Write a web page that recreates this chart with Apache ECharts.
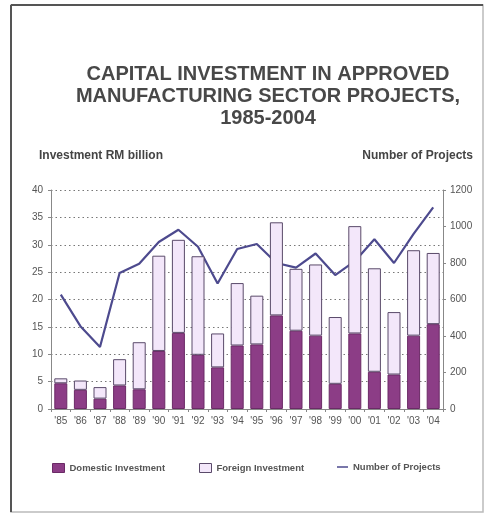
<!DOCTYPE html>
<html><head><meta charset="utf-8">
<script src="https://cdn.jsdelivr.net/npm/echarts@6/dist/echarts.min.js"></script>
<style>html,body{margin:0;padding:0;background:#fff}#c{width:485px;height:514px}</style>
</head><body><div id="c"></div>
<script>
const years = ["'85","'86","'87","'88","'89","'90","'91","'92","'93","'94","'95","'96","'97","'98","'99","'00","'01","'02","'03","'04"];
const domestic = [4.7,3.5,1.9,4.3,3.6,10.6,13.9,9.9,7.6,11.6,11.8,17.1,14.3,13.4,4.6,13.8,6.8,6.3,13.4,15.5];
const foreign = [0.9,1.7,2.1,4.8,8.6,17.4,17.0,18.0,6.2,11.4,8.9,17.0,11.3,13.0,12.2,19.6,18.9,11.4,15.6,13.0];
const projects = [627,454,340,745,796,915,982,889,688,877,904,800,775,852,734,810,930,800,960,1105];
const leftTicks = [0,40,5];
const rightTicks = [0,1200,200];

const chart = echarts.init(document.getElementById('c'));
const txt = '#555';
const ff = 'Liberation Sans, Arial, sans-serif';
chart.setOption({
  animation:false,
  graphic:[
    {type:'rect',shape:{x:11,y:5,width:472,height:507},style:{fill:'none',stroke:'#bbb',lineWidth:1.5},z:0},
    {type:'line',shape:{x1:11,y1:5,x2:483,y2:5},style:{stroke:'#555',lineWidth:2}},
    {type:'line',shape:{x1:11,y1:5,x2:11,y2:512},style:{stroke:'#555',lineWidth:2}},
    {type:'text',left:39,top:150,style:{text:'Investment RM billion',font:'bold 12px '+ff,fill:'#444'}},
    {type:'text',right:12,top:150,style:{text:'Number of Projects',font:'bold 12px '+ff,fill:'#444'}}
  ],
  title:{
    text:'CAPITAL INVESTMENT IN APPROVED\nMANUFACTURING SECTOR PROJECTS,\n1985-2004',
    left:263, top:58, textAlign:'center',
    textStyle:{fontFamily:ff,fontSize:20,fontWeight:'bold',color:'#484848',lineHeight:22}
  },
  legend:[
    {data:[{name:'Domestic Investment',icon:'rect'}],left:47,top:458,itemWidth:12,itemHeight:9,textStyle:{fontFamily:ff,fontSize:9.5,fontWeight:'bold',color:txt},itemStyle:{borderColor:'#6b2a66',borderWidth:1}},
    {data:[{name:'Foreign Investment',icon:'rect'}],left:194,top:458,itemWidth:12,itemHeight:9,textStyle:{fontFamily:ff,fontSize:9.5,fontWeight:'bold',color:txt},itemStyle:{borderColor:'#5a4a6a',borderWidth:1}},
    {data:[{name:'Number of Projects',icon:'rect'}],left:332,top:457,itemWidth:11,itemHeight:1.5,textStyle:{fontFamily:ff,fontSize:9.5,fontWeight:'bold',color:txt}}
  ],
  grid:{left:51,right:42,top:190,bottom:105},
  xAxis:{
    type:'category',data:years,boundaryGap:true,
    axisLine:{lineStyle:{color:'#888',width:1}},
    axisTick:{show:true,alignWithLabel:false,length:3,lineStyle:{color:'#888'}},
    axisLabel:{color:txt,fontFamily:ff,fontSize:10,margin:7,interval:0}
  },
  yAxis:[
    {type:'value',min:leftTicks[0],max:leftTicks[1],interval:leftTicks[2],
     axisLine:{show:true,lineStyle:{color:'#888'}},
     axisTick:{show:true,length:3,lineStyle:{color:'#888'}},
     axisLabel:{color:txt,fontFamily:ff,fontSize:10,margin:8},
     splitLine:{show:true,lineStyle:{color:'#777',type:[1.5,3],width:1}}},
    {type:'value',min:rightTicks[0],max:rightTicks[1],interval:rightTicks[2],position:'right',
     axisLine:{show:true,lineStyle:{color:'#888'}},
     axisTick:{show:true,length:3,lineStyle:{color:'#888'}},
     axisLabel:{color:txt,fontFamily:ff,fontSize:10,margin:7,formatter:v=>String(v)},
     splitLine:{show:false}}
  ],
  series:[
    {name:'Number of Projects',type:'line',yAxisIndex:1,data:projects,symbol:'none',z:1,
     lineStyle:{color:'#4d4a8e',width:2.2},itemStyle:{color:'#4d4a8e'}},
    {name:'Domestic Investment',type:'bar',stack:'inv',data:domestic,barWidth:13,z:3,
     itemStyle:{color:'#8c3d86',borderColor:'#6b2a66',borderWidth:1}},
    {name:'Foreign Investment',type:'bar',stack:'inv',data:foreign,barWidth:13,z:3,
     itemStyle:{color:'#f3e7fa',borderColor:'#5a4a6a',borderWidth:1}}
  ]
});
</script></body></html>
